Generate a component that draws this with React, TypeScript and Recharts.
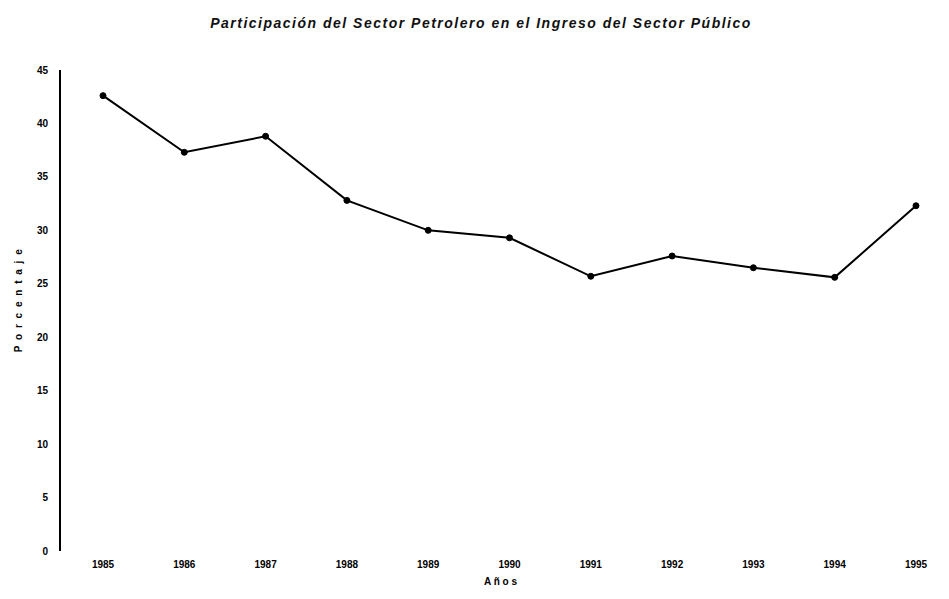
import { LineChart, Line, XAxis, YAxis, Label } from "recharts";

const years = ["1985", "1986", "1987", "1988", "1989", "1990", "1991", "1992", "1993", "1994", "1995"];
const shares = [42.6, 37.3, 38.8, 32.8, 30.0, 29.3, 25.7, 27.6, 26.5, 25.6, 32.3];
const yTicks = [0, 5, 10, 15, 20, 25, 30, 35, 40, 45];

const data = years.map((year, i) => ({ year, share: shares[i] }));

const font = "'Liberation Sans', Arial, sans-serif";

export default function App() {
  return (
    <div style={{ position: "absolute", left: 0, top: 0, width: 949, height: 599, background: "#fff" }}>
      <div
        style={{
          position: "absolute",
          top: 15,
          left: 0,
          width: 962,
          textAlign: "center",
          fontFamily: font,
          fontStyle: "italic",
          fontWeight: 700,
          fontSize: 14,
          letterSpacing: 1.5,
          color: "#111",
        }}
      >
        Participación del Sector Petrolero en el Ingreso del Sector Público
      </div>
      <LineChart width={949} height={599} data={data} margin={{ top: 70, right: 8, bottom: 18, left: 0 }}>
        <XAxis
          dataKey="year"
          axisLine={false}
          tickLine={false}
          padding={{ left: 43, right: 25 }}
          height={30}
          tickMargin={4}
          tick={{ fill: "#000", fontSize: 10, fontWeight: 700, fontFamily: font }}
        >
          <Label
            value="A ñ o s"
            position="insideBottom"
            offset={-4}
            style={{ fill: "#000", fontSize: 10, fontWeight: 700, fontFamily: font }}
          />
        </XAxis>
        <YAxis
          domain={[0, 45]}
          ticks={yTicks}
          width={60}
          axisLine={{ stroke: "#000", strokeWidth: 2 }}
          tickLine={false}
          tickMargin={6}
          tick={{ fill: "#000", fontSize: 10, fontWeight: 700, fontFamily: font }}
        >
          <Label
            content={() => (
              <text
                x={18}
                y={300}
                transform="rotate(-90 18 300)"
                textAnchor="middle"
                dominantBaseline="central"
                style={{ fill: "#000", fontSize: 10, fontWeight: 700, fontFamily: font, letterSpacing: 1.5 }}
              >
                P o r c e n t a j e
              </text>
            )}
          />
        </YAxis>
        <Line
          type="linear"
          dataKey="share"
          stroke="#000"
          strokeWidth={2}
          dot={{ r: 3, fill: "#000", stroke: "#000", strokeWidth: 1 }}
          isAnimationActive={false}
        />
      </LineChart>
    </div>
  );
}
